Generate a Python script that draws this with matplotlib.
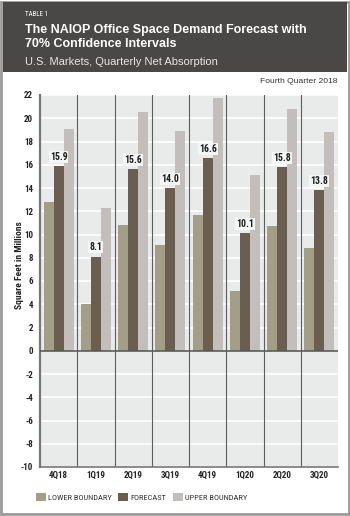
import matplotlib
matplotlib.use("Agg")
import matplotlib.pyplot as plt
import matplotlib.font_manager as fm
from matplotlib.patches import Rectangle, Patch
import numpy as np

# ---- data ----
quarters = ["4Q18", "1Q19", "2Q19", "3Q19", "4Q19", "1Q20", "2Q20", "3Q20"]
lower = [12.8, 4.0, 10.8, 9.1, 11.7, 5.1, 10.7, 8.8]
forecast = [15.9, 8.1, 15.6, 14.0, 16.6, 10.1, 15.8, 13.8]
upper = [19.1, 12.3, 20.5, 18.9, 21.7, 15.1, 20.8, 18.8]
series_names = ["LOWER BOUNDARY", "FORECAST", "UPPER BOUNDARY"]
y_ticks = list(range(-10, 23, 2))

# ---- fonts ----
ttf = fm.fontManager.ttflist
names = {f.name for f in ttf}
if "Roboto Condensed" in names:
    COND = dict(family="Roboto Condensed")
elif "Liberation Sans Narrow" in names:
    COND = dict(family="Liberation Sans Narrow")
elif any(f.name == "DejaVu Sans" and f.stretch not in ("normal", 500) for f in ttf):
    COND = dict(family="DejaVu Sans", stretch="condensed")
else:
    COND = dict(family="Liberation Sans")
TITLE = dict(family="Liberation Sans")

W, H = 350, 516
fig = plt.figure(figsize=(W / 100, H / 100), dpi=100)
fig.patch.set_facecolor("white")

# outer border and header band
fig.patches.append(Rectangle((0.004, 0.003), 0.992, 0.994, transform=fig.transFigure,
                             fill=False, edgecolor="#9a9a9a", linewidth=2.0, zorder=0))
fig.patches.append(Rectangle((3 / W, 1 - 72 / H), (W - 6) / W, 70 / H, transform=fig.transFigure,
                             facecolor="#4a4846", edgecolor="none", zorder=1))

fig.text(25 / W, 1 - 14 / H, "TABLE 1", color="white", fontsize=5, va="center", ha="left", **COND)
fig.text(25 / W, 1 - 33 / H, "The NAIOP Office Space Demand Forecast with", color="white",
         fontsize=9.0, fontweight="bold", va="baseline", ha="left", **TITLE)
fig.text(25 / W, 1 - 47 / H, "70% Confidence Intervals", color="white",
         fontsize=9.0, fontweight="bold", va="baseline", ha="left", **TITLE)
fig.text(25 / W, 1 - 65 / H, "U.S. Markets, Quarterly Net Absorption", color="#e6e6e6",
         fontsize=8.0, va="baseline", ha="left", **TITLE)
fig.text(338 / W, 1 - 81 / H, "Fourth Quarter 2018", color="#333333",
         fontsize=6.1, va="center", ha="right", **TITLE)

ax = fig.add_axes([40 / W, 1 - 467 / H, 298 / W, 372 / H])
ax.set_facecolor("#e9ebeb")

x = np.arange(len(quarters))
bw = 0.27
colors = ["#a39e86", "#6b5e51", "#c3bebb"]
b1 = ax.bar(x - bw, lower, bw, color=colors[0], zorder=3, label=series_names[0])
b2 = ax.bar(x, forecast, bw, color=colors[1], zorder=3, label=series_names[1])
b3 = ax.bar(x + bw, upper, bw, color=colors[2], zorder=3, label=series_names[2])

for rect, v in zip(b2, forecast):
    ax.annotate(f"{v:.1f}", (rect.get_x() + rect.get_width() / 2, v), xytext=(0, 3),
                textcoords="offset points", ha="center", va="bottom", fontsize=7,
                fontweight="bold", color="#1e1e1e", zorder=5,
                bbox=dict(boxstyle="square,pad=0.1", facecolor="#f4f5f5", edgecolor="none"),
                **COND)

ax.set_xlim(-0.5, len(quarters) - 0.5)
ax.set_ylim(-10, 22)
ax.set_yticks(y_ticks)
ax.set_yticklabels([str(t) for t in y_ticks])
ax.set_xticks(x)
ax.set_xticklabels(quarters)
for lab in ax.get_yticklabels() + ax.get_xticklabels():
    lab.set_fontweight("bold")
    lab.set_fontsize(6.5)
    lab.set_color("#222222")
    lab.set_fontfamily(COND["family"])
    if "stretch" in COND:
        lab.set_fontstretch(COND["stretch"])
ax.tick_params(axis="y", length=0, pad=5)
ax.tick_params(axis="x", length=0, pad=3)

# grid
for t in y_ticks:
    ax.axhline(t, color="white", linewidth=1.2, zorder=1)
for b in np.arange(0.5, len(quarters) - 0.5, 1):
    ax.axvline(b, color="#5e5e5e", linewidth=0.8, zorder=2)
ax.axhline(0, color="#5a5a5a", linewidth=1.2, zorder=4)

for s in ["top", "right"]:
    ax.spines[s].set_visible(False)
ax.spines["left"].set_color("#777777")
ax.spines["left"].set_linewidth(1.6)
ax.spines["bottom"].set_color("#777777")
ax.spines["bottom"].set_linewidth(1.2)

ax.set_ylabel("Square Feet in Millions", fontsize=6.8, fontweight="bold", color="#222222", **COND)
ax.yaxis.set_label_coords(-0.055, 0.543)

# legend: squares ~10 px, text about as tall as the tick labels
leg_size = 6.0
em = leg_size * 100 / 72.0  # font size in pixels
handles = [Patch(facecolor=c, edgecolor="none") for c in colors]
fig.legend(handles, series_names, loc="center left",
           bbox_to_anchor=(39 / W - 0.4 * em / W, 1 - 497 / H), ncol=3, frameon=False,
           borderpad=0.0, borderaxespad=0.0,
           handlelength=10.0 / em, handleheight=10.0 / em, handletextpad=2.0 / em,
           columnspacing=7.0 / em, prop=fm.FontProperties(size=leg_size, **COND),
           labelcolor="#333333")

fig.savefig("out.png", dpi=100)
